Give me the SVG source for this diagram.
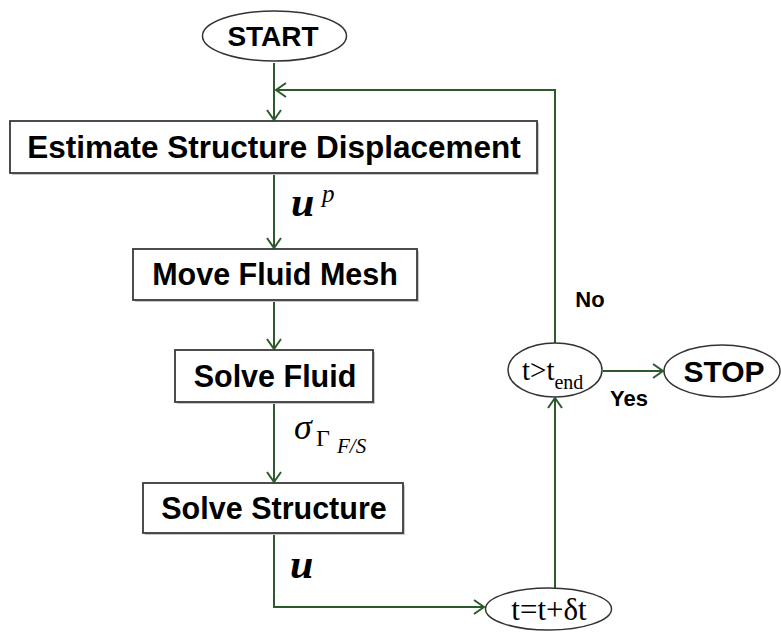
<svg xmlns="http://www.w3.org/2000/svg" width="781" height="634" viewBox="0 0 781 634">
<defs>
<marker id="arr" markerUnits="userSpaceOnUse" markerWidth="16" markerHeight="16" refX="12" refY="8" orient="auto">
<path d="M2,1 L12,8 L2,15" fill="none" stroke="#2d5a2d" stroke-width="2"/>
</marker>
</defs>
<style>
.box{fill:#fff;stroke:#3a3a3a;stroke-width:1.8}
.sh{fill:#c8c8c8}
.ell{fill:#fff;stroke:#333;stroke-width:1.5}
.lbl{font-family:"Liberation Sans",Arial,sans-serif;font-weight:bold;fill:#000;text-anchor:middle}
.tm{font-family:"Liberation Serif","Times New Roman",serif;fill:#000}
.conn{fill:none;stroke:#2d5a2d;stroke-width:2}
</style>
<rect width="781" height="634" fill="#fff"/>
<g id="connectors">
<path class="conn" d="M274,63 V120" marker-end="url(#arr)"/>
<path class="conn" d="M555,343 V90 H276" marker-end="url(#arr)"/>
<path class="conn" d="M274,174 V248" marker-end="url(#arr)"/>
<path class="conn" d="M274,301 V349" marker-end="url(#arr)"/>
<path class="conn" d="M274,403 V482" marker-end="url(#arr)"/>
<path class="conn" d="M274,534 V607 H484" marker-end="url(#arr)"/>
<path class="conn" d="M555,588 V398" marker-end="url(#arr)"/>
<path class="conn" d="M603,371 H663" marker-end="url(#arr)"/>
</g>
<g id="start">
<ellipse class="ell" cx="274.5" cy="36" rx="72" ry="25"/>
<text class="lbl" x="273" y="46" font-size="28">START</text>
</g>
<g id="estimate">
<rect class="sh" x="12" y="123" width="527" height="52"/>
<rect class="box" x="10" y="121" width="527" height="52"/>
<text class="lbl" x="274" y="158" font-size="31.5">Estimate Structure Displacement</text>
</g>
<g id="label-up">
<text class="tm" x="291" y="216" font-size="42" font-weight="bold" font-style="italic">u</text>
<text class="tm" x="322" y="202" font-size="25" font-style="italic">p</text>
</g>
<g id="move">
<rect class="sh" x="135" y="251" width="284" height="51"/>
<rect class="box" x="133" y="249" width="284" height="51"/>
<text class="lbl" x="275" y="285" font-size="30.5">Move Fluid Mesh</text>
</g>
<g id="solve-fluid">
<rect class="sh" x="177" y="352" width="198" height="52"/>
<rect class="box" x="175" y="350" width="198" height="52"/>
<text class="lbl" x="275" y="387" font-size="30.5">Solve Fluid</text>
</g>
<g id="label-sigma">
<text class="tm" x="294" y="439" font-size="36" font-style="italic">σ</text>
<text class="tm" x="316" y="446" font-size="24">Γ</text>
<text class="tm" x="337" y="453" font-size="21" font-style="italic">F/S</text>
</g>
<g id="solve-structure">
<rect class="sh" x="145" y="485" width="260" height="50"/>
<rect class="box" x="143" y="483" width="260" height="50"/>
<text class="lbl" x="274" y="519" font-size="30.5">Solve Structure</text>
</g>
<g id="label-u">
<text class="tm" x="290" y="578" font-size="42" font-weight="bold" font-style="italic">u</text>
</g>
<g id="time-step">
<ellipse class="ell" cx="548.5" cy="609" rx="63" ry="21"/>
<text class="tm" x="549" y="620" font-size="31" text-anchor="middle">t=t+δt</text>
</g>
<g id="check">
<ellipse class="ell" cx="555" cy="370" rx="47" ry="27"/>
<text class="tm" x="522" y="380" font-size="29">t&gt;t<tspan font-size="20" dy="9">end</tspan></text>
</g>
<g id="stop">
<ellipse class="ell" cx="722" cy="371" rx="58" ry="26"/>
<text class="lbl" x="724" y="382" font-size="30">STOP</text>
</g>
<text class="lbl" x="590" y="307" font-size="22">No</text>
<text class="lbl" x="629" y="406" font-size="22">Yes</text>
</svg>
